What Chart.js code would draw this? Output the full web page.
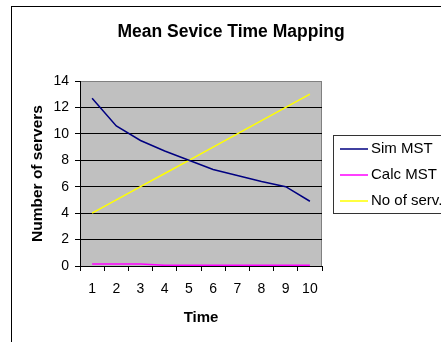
<!DOCTYPE html>
<html>
<head>
<meta charset="utf-8">
<script src="https://cdn.jsdelivr.net/npm/chart.js@4/dist/chart.umd.min.js"></script>
<style>
  html, body { margin: 0; padding: 0; background: #fff; overflow: hidden; }
  #wrap { width: 441px; height: 342px; overflow: hidden; position: relative; }
  #chart { position: absolute; left: 0; top: 0; }
</style>
</head>
<body>
<div id="wrap"><canvas id="chart" width="462" height="342"></canvas></div>
<script>
const time_labels = ['1', '2', '3', '4', '5', '6', '7', '8', '9', '10'];
const sim_mst = [12.7, 10.6, 9.5, 8.7, 8.0, 7.3, 6.85, 6.4, 6.0, 4.9];
const calc_mst = [0.15, 0.15, 0.15, 0.05, 0.05, 0.05, 0.05, 0.05, 0.05, 0.05];
const no_of_serv = [4, 5, 6, 7, 8, 9, 10, 11, 12, 13];
const series_names = ['Sim MST', 'Calc MST', 'No of serv.'];
const series_colors = ['#000080', '#ff00ff', '#ffff00'];

const font_family = '"Liberation Sans", Arial, sans-serif';

// grey plot area, outer frame and grey top/right border
const plotBackground = {
    id: 'plotBackground',
    beforeDraw(chart) {
        const {ctx, chartArea: a} = chart;
        ctx.save();
        ctx.strokeStyle = '#000';
        ctx.lineWidth = 1;
        ctx.strokeRect(11.5, 6.5, 500, 400);
        ctx.fillStyle = '#c0c0c0';
        ctx.fillRect(a.left, a.top, a.right - a.left, a.bottom - a.top);
        ctx.strokeStyle = '#808080';
        ctx.beginPath();
        ctx.moveTo(a.left, a.top + 0.5);
        ctx.lineTo(a.right - 0.5, a.top + 0.5);
        ctx.lineTo(a.right - 0.5, a.bottom);
        ctx.stroke();
        ctx.restore();
    }
};

// boxed legend like the spreadsheet one
const boxLegend = {
    id: 'boxLegend',
    afterDraw(chart) {
        const ctx = chart.ctx;
        const x0 = 333.5, y0 = 135.5;
        ctx.save();
        ctx.fillStyle = '#fff';
        ctx.fillRect(x0, y0, 140, 78);
        ctx.strokeStyle = '#333';
        ctx.lineWidth = 1;
        ctx.strokeRect(x0, y0, 140, 78);
        ctx.font = '15px ' + font_family;
        ctx.textBaseline = 'middle';
        ctx.fillStyle = '#000';
        chart.data.datasets.forEach((ds, i) => {
            const y = 149 + i * 26;
            ctx.strokeStyle = ds.borderColor;
            ctx.lineWidth = 1.5;
            ctx.beginPath();
            ctx.moveTo(340, y);
            ctx.lineTo(368, y);
            ctx.stroke();
            ctx.fillText(ds.label, 371, y);
        });
        ctx.restore();
    }
};

new Chart(document.getElementById('chart'), {
    type: 'line',
    data: {
        labels: time_labels,
        datasets: [sim_mst, calc_mst, no_of_serv].map((vals, i) => ({
            label: series_names[i],
            data: vals,
            borderColor: series_colors[i],
            backgroundColor: series_colors[i],
            borderWidth: 1.5,
            pointRadius: 0,
            tension: 0,
            yAxisID: 'y'
        }))
    },
    options: {
        responsive: false,
        animation: false,
        layout: { padding: 0 },
        plugins: {
            legend: { display: false },
            tooltip: { enabled: false },
            title: {
                display: true,
                text: 'Mean Sevice Time Mapping',
                color: '#000',
                font: { family: font_family, size: 17.5, weight: 'bold' },
                padding: { top: 21.5, bottom: 38.5 }
            }
        },
        scales: {
            x: {
                offset: true,
                grid: {
                    offset: true,
                    drawOnChartArea: false,
                    drawTicks: true,
                    tickLength: 5,
                    tickColor: '#000'
                },
                border: { color: '#000', width: 1 },
                ticks: {
                    color: '#000',
                    padding: 10,
                    maxRotation: 0,
                    font: { family: font_family, size: 14 }
                },
                title: {
                    display: true,
                    text: 'Time',
                    color: '#000',
                    font: { family: font_family, size: 15, weight: 'bold' },
                    padding: { top: 0, bottom: 15 }
                },
                afterFit(s) { s.height = 76; }
            },
            y: {
                min: 0,
                max: 14,
                ticks: {
                    stepSize: 2,
                    color: '#000',
                    padding: 6,
                    font: { family: font_family, size: 14 }
                },
                grid: {
                    color: (c) => (c.tick && c.tick.value === 14 ? '#808080' : '#000'),
                    tickColor: '#000',
                    tickLength: 5,
                    lineWidth: 1
                },
                border: { color: '#000', width: 1 },
                title: {
                    display: true,
                    text: 'Number of servers',
                    color: '#000',
                    font: { family: font_family, size: 15.5, weight: 'bold' },
                    padding: { top: 28, bottom: 0 }
                },
                afterFit(s) { s.width = 80; }
            },
            spacer: {
                type: 'linear',
                position: 'right',
                display: true,
                grid: { display: false, drawTicks: false },
                border: { display: false },
                ticks: { display: false },
                afterFit(s) { s.width = 140; }
            }
        }
    },
    plugins: [plotBackground, boxLegend]
});
</script>
</body>
</html>
